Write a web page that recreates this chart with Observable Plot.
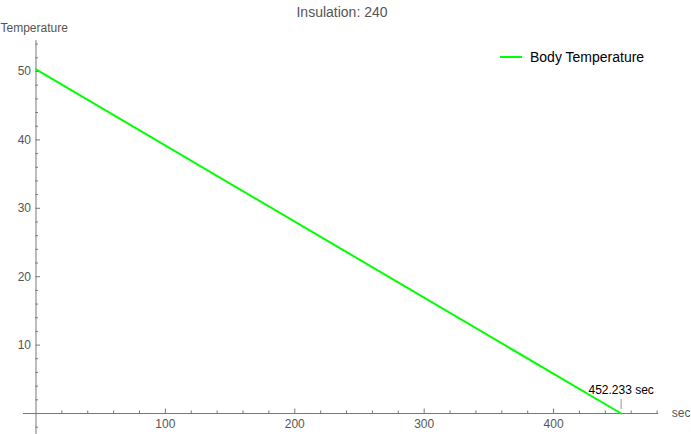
<!DOCTYPE html>
<html><head><meta charset="utf-8">
<script src="https://cdn.jsdelivr.net/npm/d3@7"></script>
<script src="https://cdn.jsdelivr.net/npm/@observablehq/plot@0.6"></script>
<style>
body{margin:0;background:#fff}
#wrap{position:relative;width:691px;height:434px;font-family:"Liberation Sans",Arial,sans-serif}
#legend{position:absolute;left:500px;top:48px;display:flex;align-items:center;font-size:14px;color:#000;line-height:18px}
#legend .sw{display:inline-block;width:22px;height:2px;background:#00ff00;margin-right:8px}
</style></head><body>
<div id="wrap"><div id="legend"><span class="sw"></span>Body Temperature</div></div>
<script>
// data
const time = [0, 452.233];
const temperature = [50.3, 0];
const crossing = 452.233;
const titleText = "Insulation: 240";
const xTickLabels = [100, 200, 300, 400];
const yTickLabels = [10, 20, 30, 40, 50];
const xMinorTicks = [20,40,60,80,120,140,160,180,220,240,260,280,320,340,360,380,420,440,460,480];
const yMinorTicks = [-2,2,4,6,8,12,14,16,18,22,24,26,28,32,34,36,38,42,44,46,48,52,54];

const series = time.map((t, i) => ({time: t, temperature: temperature[i]}));

const kx = 1.294, ky = 6.84; // px per unit, used only for tick lengths
const axisColor = "#777";
const labelColor = "#555";

const chart = Plot.plot({
  width: 691, height: 434,
  marginTop: 0, marginBottom: 0, marginLeft: 0, marginRight: 0,
  style: {fontFamily: "'Liberation Sans', Arial, sans-serif", background: "transparent"},
  x: {domain: [-27.43, 506.6], axis: null},
  y: {domain: [-3.07, 60.38], axis: null},
  marks: [
    Plot.ruleY([0], {x1: -9.66, x2: 481.1, stroke: axisColor}),
    Plot.ruleX([0], {y1: -3.07, y2: 54.5, stroke: axisColor}),
    Plot.ruleX(xTickLabels, {x: d => d, y1: 0, y2: 4.5 / ky, stroke: axisColor}),
    Plot.ruleX(xMinorTicks, {x: d => d, y1: 0, y2: 2.5 / ky, stroke: axisColor}),
    Plot.ruleY(yTickLabels, {y: d => d, x1: 0, x2: 4.5 / kx, stroke: axisColor}),
    Plot.ruleY(yMinorTicks, {y: d => d, x1: 0, x2: 2.5 / kx, stroke: axisColor}),
    Plot.text(xTickLabels, {x: d => d, y: 0, dy: 11, fontSize: 12, fill: labelColor}),
    Plot.text(yTickLabels, {x: 0, y: d => d, dx: -5, textAnchor: "end", fontSize: 12, fill: labelColor}),
    Plot.line(series, {x: "time", y: "temperature", stroke: "#00ff00", strokeWidth: 2}),
    Plot.ruleX([crossing], {x: d => d, y1: 0.6, y2: 2.05, stroke: "#bbb", strokeWidth: 1.5}),
    Plot.text([crossing], {x: d => d, y: 0, dy: -23, text: d => `${d} sec`, fontSize: 12, fill: "#000", stroke: "white", strokeWidth: 3}),
    Plot.text([titleText], {frameAnchor: "top", dx: -4, dy: 7, fontSize: 14, fill: labelColor}),
    Plot.text(["Temperature"], {frameAnchor: "top-left", textAnchor: "start", dx: 0, dy: 23, fontSize: 12, fill: labelColor}),
    Plot.text(["sec"], {frameAnchor: "right", y: () => 0, textAnchor: "end", dx: -1, fontSize: 12, fill: labelColor})
  ]
});
document.getElementById("wrap").prepend(chart);
chart.style.position = "absolute";
chart.style.left = "0";
chart.style.top = "0";
</script>
</body></html>
